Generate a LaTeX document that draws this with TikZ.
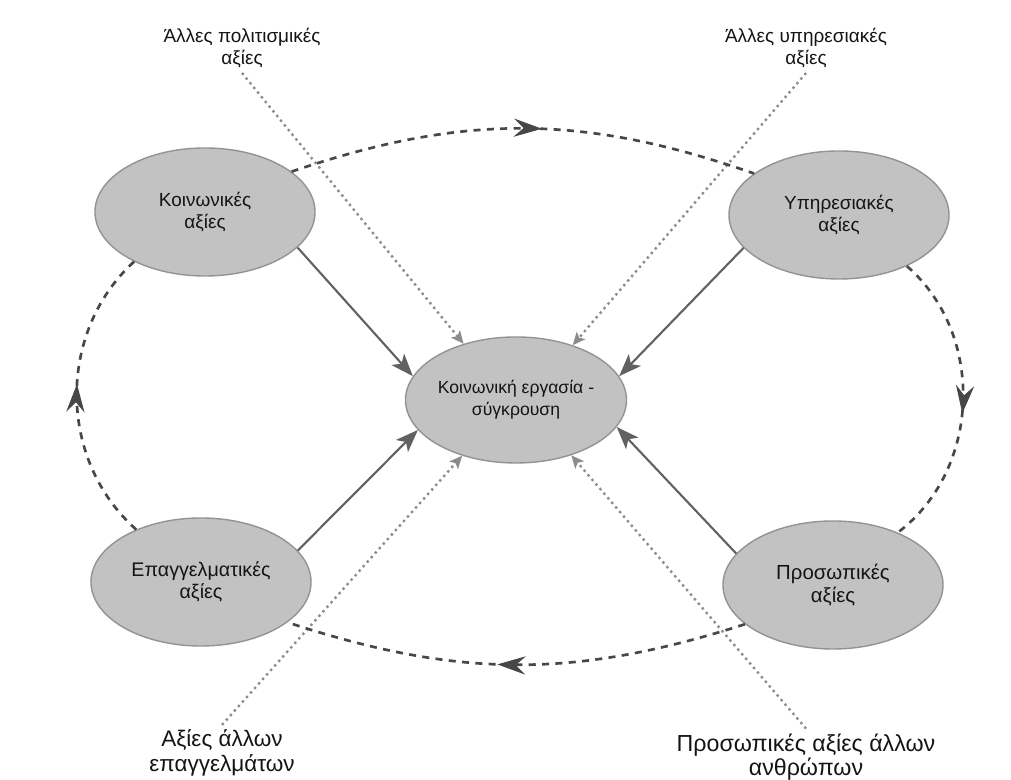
\documentclass[tikz,border=0pt]{standalone}
\usepackage{fontspec}
\setmainfont{Liberation Sans}
\usetikzlibrary{shapes.geometric,arrows.meta,decorations.markings}
\tikzset{
  value/.style={ellipse,draw=gray!85,fill=gray!48,line width=1pt,inner sep=0pt,
    minimum width=5.5cm,minimum height=3.2cm,align=center,text=black!92},
  outer/.style={align=center,text=black!92},
  link/.style={draw=black!62,line width=1.5pt,-{Stealth[length=16pt,width=12pt,inset=4pt]}},
  outlink/.style={draw=black!45,line width=1.7pt,dash pattern=on 1.7pt off 2.6pt,-{Stealth[length=9pt,width=8pt,inset=2pt]}},
  ringlink/.style={draw=black!72,line width=1.9pt,dash pattern=on 5pt off 4.5pt,
    postaction={decorate},
    decoration={markings,mark=at position 0.54 with {\arrow[solid,line width=0.6pt]{Stealth[length=20pt,width=13pt,inset=7pt]}}}}
}
\begin{document}
\begin{tikzpicture}[x=0.025cm,y=0.025cm]
  \useasboundingbox (0,0) rectangle (1011,780);
  \node[value,font=\fontsize{13.5}{16}\selectfont] (social) at (205,568) {Κοινωνικές\\αξίες};
  \node[value,font=\fontsize{13.5}{16}\selectfont] (service) at (839,565) {Υπηρεσιακές\\αξίες};
  \node[value,minimum width=5.3cm,minimum height=3.15cm,font=\fontsize{12.5}{15.5}\selectfont] (work) at (516,380) {Κοινωνική εργασία -\\σύγκρουση};
  \node[value,font=\fontsize{14}{16}\selectfont] (prof) at (201,198) {Επαγγελματικές\\αξίες};
  \node[value,font=\fontsize{14.5}{16.5}\selectfont] (pers) at (833,195) {Προσωπικές\\αξίες};
  \node[outer,font=\fontsize{13.5}{16}\selectfont] (culture) at (242,732) {Άλλες πολιτισμικές\\αξίες};
  \node[outer,font=\fontsize{13.5}{16}\selectfont] (otherserv) at (806,732) {Άλλες υπηρεσιακές\\αξίες};
  \node[outer,font=\fontsize{16}{17.5}\selectfont] (otherprof) at (222,27) {Αξίες άλλων\\επαγγελμάτων};
  \node[outer,font=\fontsize{16.5}{17.5}\selectfont] (otherpeople) at (806,23) {Προσωπικές αξίες άλλων\\ανθρώπων};
  \begin{scope}[outlink]
    \draw (culture.south) to (work.133);
    \draw (otherserv.south) to (work.44);
    \draw (otherprof.north) to (work.-134);
    \draw (otherpeople.north) to (work.-45);
  \end{scope}
  \draw[ringlink] (social.25) to[bend left=19] (service.154);
  \draw[ringlink] (service.-37) to[bend left=51] (pers.39);
  \draw[ringlink] (pers.-156) to[bend left=18] (prof.-25);
  \draw[ringlink] (prof.141) to[bend left=48] (social.-145);
  \begin{scope}[link]
    \draw (social.-21) to (work.167);
    \draw (service.-161) to (work.13);
    \draw (prof.18) to (work.-163);
    \draw (pers.162) to (work.-15);
  \end{scope}
\end{tikzpicture}
\end{document}
